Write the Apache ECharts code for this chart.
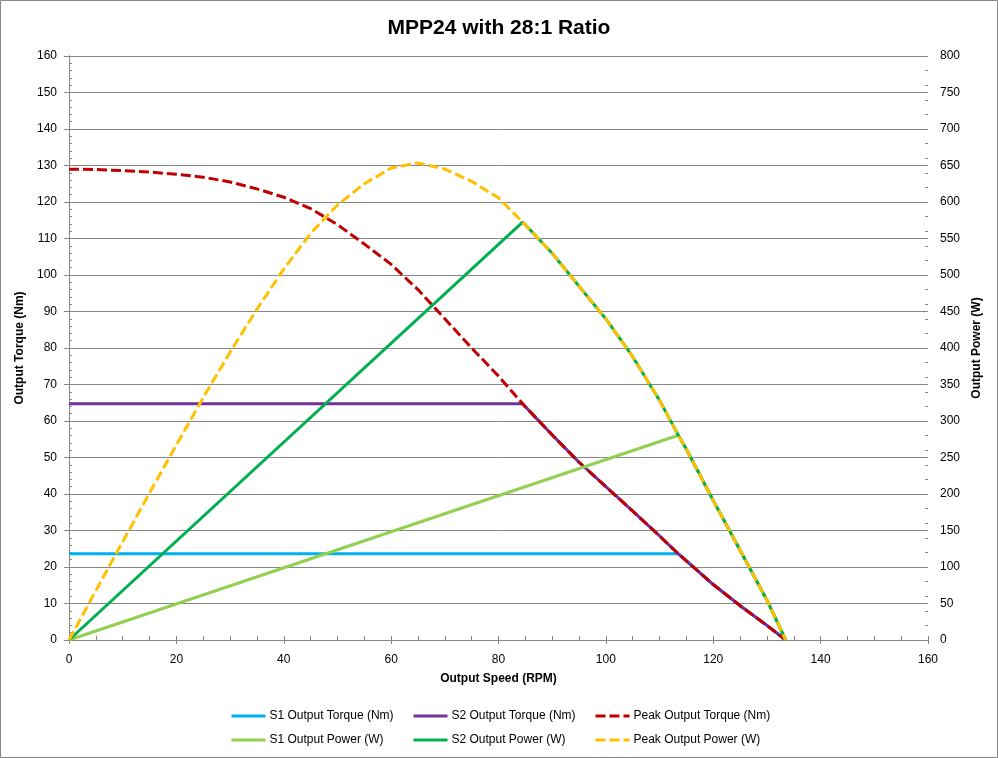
<!DOCTYPE html>
<html>
<head>
<meta charset="utf-8">
<script src="https://cdn.jsdelivr.net/npm/echarts@6/dist/echarts.min.js"></script>
<style>html,body{margin:0;padding:0;background:#fff;}#c{width:998px;height:758px;}</style>
</head>
<body>
<div id="c"></div>
<script>
// ---- data ----
const titleText = 'MPP24 with 28:1 Ratio';
const xName = 'Output Speed (RPM)';
const yLeftName = 'Output Torque (Nm)';
const yRightName = 'Output Power (W)';
const seriesNames = ['S1 Output Torque (Nm)', 'S2 Output Torque (Nm)', 'Peak Output Torque (Nm)',
                     'S1 Output Power (W)', 'S2 Output Power (W)', 'Peak Output Power (W)'];

const rpmPeak = [0,5,10,15,20,25,30,35,40,45,50,55,60,65,70,75,80,84.5,90,95,100,105,110,113.5,115,120,125,130,133.5];
const peakTorque = [129.0,128.9,128.6,128.2,127.6,126.8,125.5,123.6,121.3,118.2,113.8,108.5,102.9,96.0,88.0,80.0,72.3,64.7,56.2,48.7,42.0,35.3,28.5,23.6,21.7,15.2,9.4,4.0,0];
const peakPower = [0,67.5,134.7,201.4,267.2,332.0,394.3,453.0,508.1,557.0,595.9,624.9,646.5,653.5,645.1,628.3,605.7,572.5,529.7,484.5,439.8,388.1,328.3,280.5,261.3,191.0,123.0,54.5,0];

const rpmS1 = [0,113.5,115,120,125,130,133.5];
const s1Torque = [23.6,23.6,21.7,15.2,9.4,4.0,0];
const s1Power = [0,280.5,261.3,191.0,123.0,54.5,0];

const rpmS2 = [0,84.5,90,95,100,105,110,113.5,115,120,125,130,133.5];
const s2Torque = [64.7,64.7,56.2,48.7,42.0,35.3,28.5,23.6,21.7,15.2,9.4,4.0,0];
const s2Power = [0,572.5,529.7,484.5,439.8,388.1,328.3,280.5,261.3,191.0,123.0,54.5,0];

// ---- chart ----
const pairs = (xs, ys) => xs.map((x, i) => [x, ys[i]]);
const FONT = 'Liberation Sans';
const GRAY = '#868686';
const colors = ['#00b0f0', '#7030a0', '#c00000', '#92d050', '#00b050', '#ffc000'];
const DASH = [10, 4];

function lineSeries(idx, data, yIdx, dashed) {
  return {
    name: seriesNames[idx], type: 'line', xAxisIndex: 0, yAxisIndex: yIdx,
    data: data, symbol: 'none', showSymbol: false, smooth: false, animation: false,
    lineStyle: { color: colors[idx], width: 3, type: dashed ? DASH : 'solid', cap: 'butt' },
    itemStyle: { color: colors[idx] }
  };
}

const legendCols = [230, 412, 594];
const legendRows = [710, 734];
const legends = seriesNames.map((n, i) => ({
  data: [n],
  left: legendCols[i % 3], top: legendRows[Math.floor(i / 3)],
  padding: 0,
  itemWidth: 34, itemHeight: 14, itemGap: 0,
  itemStyle: { opacity: 0 },
  lineStyle: { width: 3 },
  textStyle: { fontFamily: FONT, fontSize: 12, color: '#000', padding: [0, 0, 0, -1] }
}));

const chart = echarts.init(document.getElementById('c'), null, { renderer: 'canvas' });
chart.setOption({
  animation: false,
  backgroundColor: '#ffffff',
  textStyle: { fontFamily: FONT },
  title: {
    text: titleText, left: 'center', top: 13,
    textStyle: { fontFamily: FONT, fontSize: 21, fontWeight: 'bold', color: '#000' }
  },
  graphic: [{
    type: 'rect', shape: { x: 0.5, y: 0.5, width: 997, height: 757 },
    style: { fill: 'none', stroke: GRAY, lineWidth: 1 }, silent: true, z: -1
  }],
  legend: legends,
  grid: { left: 69, right: 70, top: 56, bottom: 118, containLabel: false },
  xAxis: [
    {
      type: 'value', min: 0, max: 160, interval: 20, position: 'bottom',
      name: xName, nameLocation: 'middle', nameGap: 33,
      nameTextStyle: { fontFamily: FONT, fontSize: 12, fontWeight: 'bold', color: '#000' },
      axisLine: { show: true, lineStyle: { color: GRAY, width: 1 } },
      axisTick: { show: true, inside: false, length: 4, lineStyle: { color: GRAY } },
      axisLabel: { fontFamily: FONT, fontSize: 12, color: '#000', margin: 14 },
      splitLine: { show: false }
    },
    {
      type: 'value', min: 0, max: 160, interval: 5, position: 'bottom',
      axisLine: { show: false },
      axisTick: { show: true, inside: true, length: 4, lineStyle: { color: GRAY } },
      axisLabel: { show: false }, splitLine: { show: false }
    }
  ],
  yAxis: [
    {
      type: 'value', min: 0, max: 160, interval: 10, position: 'left',
      name: yLeftName, nameLocation: 'middle', nameGap: 35, nameRotate: 90,
      nameTextStyle: { fontFamily: FONT, fontSize: 12, fontWeight: 'bold', color: '#000' },
      axisLine: { show: true, lineStyle: { color: GRAY, width: 1 } },
      axisTick: { show: true, inside: false, length: 5, lineStyle: { color: GRAY } },
      axisLabel: { fontFamily: FONT, fontSize: 12, color: '#000', margin: 12 },
      splitLine: { show: true, lineStyle: { color: GRAY, width: 1 } }
    },
    {
      type: 'value', min: 0, max: 800, interval: 50, position: 'right',
      name: yRightName, nameLocation: 'middle', nameGap: 37, nameRotate: 90,
      nameTextStyle: { fontFamily: FONT, fontSize: 12, fontWeight: 'bold', color: '#000' },
      axisLine: { show: true, lineStyle: { color: GRAY, width: 1 } },
      axisTick: { show: true, inside: false, length: 5, lineStyle: { color: GRAY } },
      axisLabel: { fontFamily: FONT, fontSize: 12, color: '#000', margin: 12 },
      splitLine: { show: false }
    },
    {
      type: 'value', min: 0, max: 160, interval: 2, position: 'left',
      axisLine: { show: false },
      axisTick: { show: true, inside: true, length: 3, lineStyle: { color: GRAY } },
      axisLabel: { show: false }, splitLine: { show: false }
    },
    {
      type: 'value', min: 0, max: 800, interval: 20, position: 'right',
      axisLine: { show: false },
      axisTick: { show: true, inside: true, length: 3, lineStyle: { color: GRAY } },
      axisLabel: { show: false }, splitLine: { show: false }
    }
  ],
  series: [
    lineSeries(0, pairs(rpmS1, s1Torque), 0, false),
    lineSeries(1, pairs(rpmS2, s2Torque), 0, false),
    lineSeries(2, pairs(rpmPeak, peakTorque), 0, true),
    lineSeries(3, pairs(rpmS1, s1Power), 1, false),
    lineSeries(4, pairs(rpmS2, s2Power), 1, false),
    lineSeries(5, pairs(rpmPeak, peakPower), 1, true)
  ]
});
</script>
</body>
</html>
